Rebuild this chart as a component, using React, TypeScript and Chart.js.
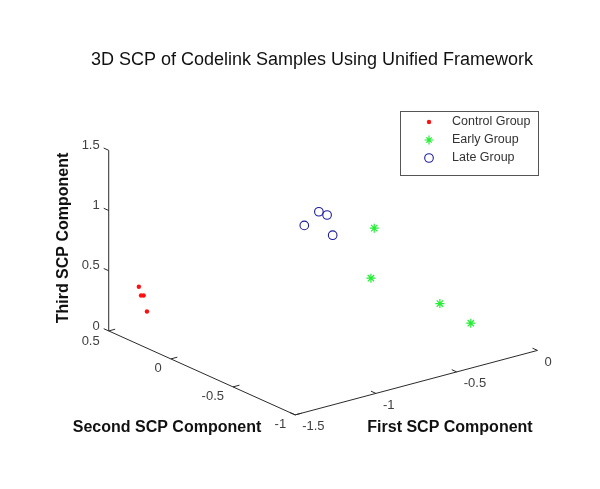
import { useEffect, useRef } from "react";
import { Chart, registerables } from "chart.js";
Chart.register(...registerables);

const TITLE = "3D SCP of Codelink Samples Using Unified Framework";
const X_LABEL = "First SCP Component";
const Y_LABEL = "Second SCP Component";
const Z_LABEL = "Third SCP Component";
const X_TICKS = [-1.5, -1, -0.5, 0];
const Y_TICKS = [-1, -0.5, 0, 0.5];
const Z_TICKS = [0, 0.5, 1, 1.5];
const X_RANGE = [-1.5, 0];
const Y_RANGE = [-1, 0.5];
const Z_RANGE = [0, 1.5];

const SERIES_NAMES = ["Control Group", "Early Group", "Late Group"];
const controlX = [-1.365, -1.38, -1.37, -1.391];
const controlY = [0.433, 0.396, 0.388, 0.334];
const controlZ = [0.35, 0.3, 0.3, 0.2];
const earlyX = [-0.515, -0.544, -0.391, -0.336];
const earlyY = [-0.356, -0.367, -0.723, -0.9];
const earlyZ = [0.9, 0.5, 0.4, 0.3];
const lateX = [-0.868, -0.797, -0.793, -0.79];
const lateY = [-0.252, -0.277, -0.338, -0.379];
const lateZ = [1.0, 1.1, 1.1, 0.95];

// view (layout) constants: screen position of the corner (xmin, ymax, zmin) and per-unit axis vectors
const VIEW = {
  ox: 105, oy: 333,
  ex: [164.7, -44],
  ey: [-126.7, -57.3],
  ez: [0, -123.3],
};
const W = 600;
const H = 489;

function proj(x: number, y: number, z: number) {
  const a = x - X_RANGE[0];
  const b = y - Y_RANGE[1];
  const c = z - Z_RANGE[0];
  return {
    x: VIEW.ox + a * VIEW.ex[0] + b * VIEW.ey[0] + c * VIEW.ez[0],
    y: VIEW.oy + a * VIEW.ex[1] + b * VIEW.ey[1] + c * VIEW.ez[1],
  };
}

function pts(xs: number[], ys: number[], zs: number[]) {
  return xs.map((x, i) => proj(x, ys[i], zs[i]));
}

const FONT = "'Liberation Sans', Arial, sans-serif";
const RED = "#ff1010";
const GREEN = "#22ee33";
const BLUE = "#1c1c9c";

function drawMarker(ctx: CanvasRenderingContext2D, kind: number, x: number, y: number) {
  ctx.save();
  if (kind === 0) {
    ctx.fillStyle = RED;
    ctx.beginPath();
    ctx.arc(x, y, 2.2, 0, Math.PI * 2);
    ctx.fill();
  } else if (kind === 1) {
    ctx.strokeStyle = GREEN;
    ctx.lineWidth = 1.2;
    const r = 4.5;
    ctx.beginPath();
    ctx.moveTo(x - r, y); ctx.lineTo(x + r, y);
    ctx.moveTo(x, y - r); ctx.lineTo(x, y + r);
    const d = r * 0.6;
    ctx.moveTo(x - d, y - d); ctx.lineTo(x + d, y + d);
    ctx.moveTo(x - d, y + d); ctx.lineTo(x + d, y - d);
    ctx.stroke();
  } else {
    ctx.strokeStyle = BLUE;
    ctx.lineWidth = 1.1;
    ctx.beginPath();
    ctx.arc(x, y, 4.3, 0, Math.PI * 2);
    ctx.stroke();
  }
  ctx.restore();
}

const decor = {
  id: "decor",
  beforeDatasetsDraw(chart: any) {
    const ctx = chart.ctx as CanvasRenderingContext2D;
    const xs = chart.scales.x;
    const ys = chart.scales.y;
    const P = (x: number, y: number, z: number) => {
      const p = proj(x, y, z);
      return { x: xs.getPixelForValue(p.x), y: ys.getPixelForValue(p.y) };
    };
    ctx.save();
    ctx.strokeStyle = "#2a2a2a";
    ctx.lineWidth = 1;
    const line = (a: any, b: any) => {
      ctx.beginPath();
      ctx.moveTo(a.x, a.y);
      ctx.lineTo(b.x, b.y);
      ctx.stroke();
    };
    // axes
    line(P(X_RANGE[0], Y_RANGE[1], Z_RANGE[0]), P(X_RANGE[0], Y_RANGE[1], Z_RANGE[1]));
    line(P(X_RANGE[0], Y_RANGE[1], Z_RANGE[0]), P(X_RANGE[0], Y_RANGE[0], Z_RANGE[0]));
    line(P(X_RANGE[0], Y_RANGE[0], Z_RANGE[0]), P(X_RANGE[1], Y_RANGE[0], Z_RANGE[0]));
    // ticks
    const tl = 0.04;
    Z_TICKS.forEach((t) => line(P(X_RANGE[0], Y_RANGE[1], t), P(X_RANGE[0], Y_RANGE[1] + tl, t)));
    Y_TICKS.forEach((t) => line(P(X_RANGE[0], t, Z_RANGE[0]), P(X_RANGE[0] + tl, t, Z_RANGE[0])));
    X_TICKS.forEach((t) => line(P(t, Y_RANGE[0], Z_RANGE[0]), P(t, Y_RANGE[0] + tl, Z_RANGE[0])));

    // tick labels
    ctx.fillStyle = "#404040";
    ctx.font = `13px ${FONT}`;
    ctx.textBaseline = "middle";
    ctx.textAlign = "right";
    Z_TICKS.forEach((t) => {
      const p = P(X_RANGE[0], Y_RANGE[1], t);
      ctx.fillText(String(t), p.x - 9, p.y - 5);
    });
    Y_TICKS.forEach((t) => {
      const p = P(X_RANGE[0], t, Z_RANGE[0]);
      ctx.fillText(String(t), p.x - 9, p.y + 10);
    });
    ctx.textAlign = "left";
    X_TICKS.forEach((t) => {
      const p = P(t, Y_RANGE[0], Z_RANGE[0]);
      ctx.fillText(String(t), p.x + 7, p.y + 12);
    });

    // axis titles
    ctx.fillStyle = "#111";
    ctx.font = `bold 16px ${FONT}`;
    ctx.textAlign = "center";
    ctx.fillText(Y_LABEL, 167, 428);
    ctx.fillText(X_LABEL, 450, 428);
    ctx.save();
    ctx.translate(64, 238);
    ctx.rotate(-Math.PI / 2);
    ctx.fillText(Z_LABEL, 0, 0);
    ctx.restore();

    // title
    ctx.font = `18px ${FONT}`;
    ctx.fillText(TITLE, 312, 60);

    // legend
    ctx.strokeStyle = "#555";
    ctx.lineWidth = 1;
    ctx.strokeRect(400.5, 111.5, 138, 64);
    ctx.fillStyle = "#333";
    ctx.font = `12.5px ${FONT}`;
    ctx.textAlign = "left";
    const ly = [122, 140, 158];
    SERIES_NAMES.forEach((n, i) => {
      drawMarker(ctx, i, 429, ly[i]);
      ctx.fillText(n, 452, ly[i]);
    });
    ctx.restore();
  },
};

export default function App() {
  const ref = useRef<HTMLCanvasElement>(null);
  useEffect(() => {
    document.body.style.margin = "0";
    const canvas = ref.current!;
    const chart = new Chart(canvas, {
      type: "scatter",
      data: {
        datasets: [
          {
            label: SERIES_NAMES[0],
            data: pts(controlX, controlY, controlZ),
            pointStyle: "circle",
            pointRadius: 2.2,
            backgroundColor: RED,
            borderColor: RED,
            borderWidth: 0,
          },
          {
            label: SERIES_NAMES[1],
            data: pts(earlyX, earlyY, earlyZ),
            pointStyle: "star",
            pointRadius: 4.5,
            borderColor: GREEN,
            backgroundColor: GREEN,
            borderWidth: 1.2,
          },
          {
            label: SERIES_NAMES[2],
            data: pts(lateX, lateY, lateZ),
            pointStyle: "circle",
            pointRadius: 4.3,
            borderColor: BLUE,
            backgroundColor: "rgba(0,0,0,0)",
            borderWidth: 1.1,
          },
        ],
      },
      plugins: [decor],
      options: {
        animation: false,
        responsive: false,
        maintainAspectRatio: false,
        devicePixelRatio: 1,
        layout: { padding: 0 },
        plugins: { legend: { display: false }, tooltip: { enabled: false }, title: { display: false } },
        scales: {
          x: { type: "linear", display: false, min: 0, max: W },
          y: { type: "linear", display: false, min: 0, max: H, reverse: true },
        },
      },
    });
    return () => chart.destroy();
  }, []);
  return (
    <div style={{ position: "absolute", left: 0, top: 0, width: W, height: H, background: "#fff" }}>
      <canvas ref={ref} width={W} height={H} style={{ width: W, height: H, display: "block" }} />
    </div>
  );
}
